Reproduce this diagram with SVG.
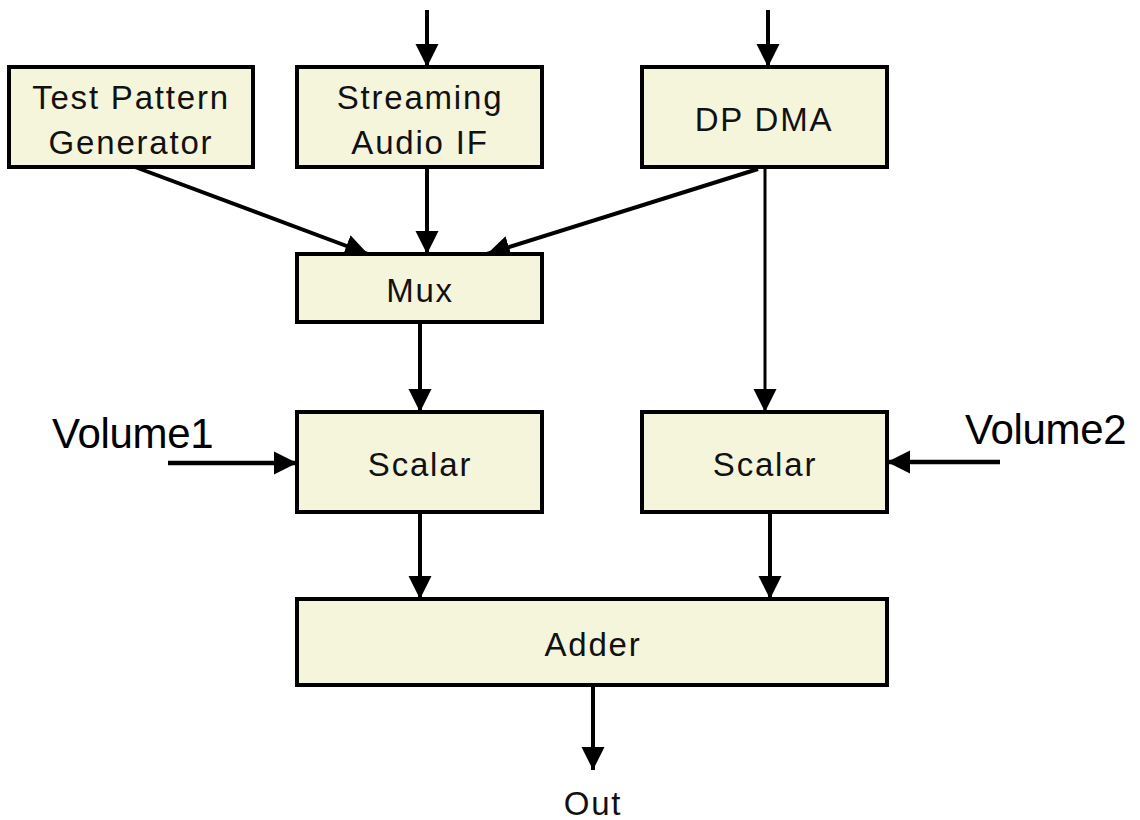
<svg xmlns="http://www.w3.org/2000/svg" width="1140" height="820" viewBox="0 0 1140 820">
<defs>
<style>
.box{fill:#f5f5dc;stroke:#000;stroke-width:4}
.lbl{font-family:"Liberation Sans",Arial,sans-serif;font-size:33px;fill:#111;text-anchor:middle;letter-spacing:1.8px}
.big{font-family:"Liberation Sans",Arial,sans-serif;font-size:42px;fill:#000;letter-spacing:-0.3px}
.c{fill:none;stroke:#000;stroke-width:4}
</style>
<marker id="ah" viewBox="0 0 10 10" refX="10" refY="5" markerWidth="23" markerHeight="24" orient="auto" markerUnits="userSpaceOnUse">
<path d="M0,0 L10,5 L0,10 Z" fill="#000"/>
</marker>
</defs>
<rect width="1140" height="820" fill="#fff"/>
<g id="connectors">
<line class="c" x1="427" y1="10" x2="427" y2="67" marker-end="url(#ah)"/>
<line class="c" x1="768" y1="10" x2="768" y2="67" marker-end="url(#ah)"/>
<line class="c" x1="135" y1="167" x2="368" y2="254" marker-end="url(#ah)"/>
<line class="c" x1="427" y1="167" x2="427" y2="254" marker-end="url(#ah)"/>
<line class="c" x1="758" y1="169" x2="487" y2="254" marker-end="url(#ah)"/>
<line class="c" x1="765" y1="169" x2="765" y2="412" marker-end="url(#ah)" style="stroke-width:3"/>
<line class="c" x1="420" y1="322" x2="420" y2="412" marker-end="url(#ah)"/>
<line class="c" x1="168" y1="463" x2="297" y2="463" marker-end="url(#ah)" style="stroke-width:4.5"/>
<line class="c" x1="1000" y1="462" x2="887" y2="462" marker-end="url(#ah)" style="stroke-width:4.5"/>
<line class="c" x1="420" y1="512" x2="420" y2="599" marker-end="url(#ah)"/>
<line class="c" x1="770" y1="512" x2="770" y2="599" marker-end="url(#ah)"/>
<line class="c" x1="593" y1="685" x2="593" y2="770" marker-end="url(#ah)"/>
</g>
<g id="tpg">
<rect class="box" x="9" y="67" width="244" height="100"/>
<text class="lbl" x="131" y="109">Test Pattern</text>
<text class="lbl" x="131" y="154">Generator</text>
</g>
<g id="saif">
<rect class="box" x="297" y="67" width="245" height="100"/>
<text class="lbl" x="420" y="109">Streaming</text>
<text class="lbl" x="420" y="154">Audio IF</text>
</g>
<g id="dpdma">
<rect class="box" x="642" y="67" width="245" height="100"/>
<text class="lbl" x="764" y="131">DP DMA</text>
</g>
<g id="mux">
<rect class="box" x="297" y="254" width="245" height="68"/>
<text class="lbl" x="420" y="302">Mux</text>
</g>
<g id="scalar1">
<rect class="box" x="297" y="412" width="245" height="100"/>
<text class="lbl" x="420" y="476">Scalar</text>
</g>
<g id="scalar2">
<rect class="box" x="642" y="412" width="245" height="100"/>
<text class="lbl" x="765" y="476">Scalar</text>
</g>
<g id="adder">
<rect class="box" x="297" y="599" width="590" height="86"/>
<text class="lbl" x="593" y="656">Adder</text>
</g>
<g id="labels">
<text class="big" x="52" y="448">Volume1</text>
<text class="big" x="965" y="444">Volume2</text>
<text class="lbl" x="593" y="815">Out</text>
</g>
</svg>
